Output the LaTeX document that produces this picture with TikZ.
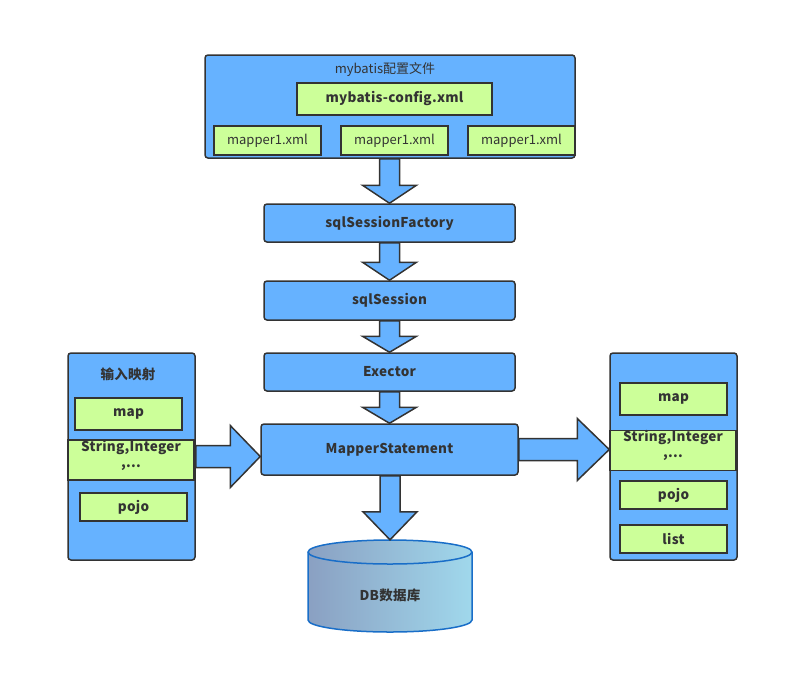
\documentclass[tikz,border=0pt]{standalone}
\usepackage{fontspec}
\setmainfont{Noto Sans CJK SC}
\usetikzlibrary{calc}
\definecolor{boxblue}{RGB}{102,178,255}
\definecolor{boxgreen}{RGB}{204,255,153}
\definecolor{edgegray}{RGB}{51,51,51}
\definecolor{dbedge}{RGB}{25,110,200}
\definecolor{dbleft}{RGB}{138,160,194}
\definecolor{dbright}{RGB}{160,216,236}
\tikzstyle{heavy} = [font=\fontsize{13.5}{16}\selectfont\bfseries\addfontfeatures{LetterSpace=2}]
\tikzstyle{container} = [rectangle, rounded corners=3pt, draw=edgegray, fill=boxblue, line width=1.5pt, inner sep=0pt]
\tikzstyle{process} = [rectangle, rounded corners=3pt, draw=edgegray, fill=boxblue, line width=1.5pt, minimum width=251pt, minimum height=38pt, heavy]
\tikzstyle{item} = [rectangle, draw=edgegray, fill=boxgreen, line width=1.5pt, minimum width=107pt, minimum height=29pt, inner sep=1pt]
\tikzstyle{typebox} = [item, heavy, minimum width=126pt, align=center, inner sep=0pt, text depth=13pt]
\tikzstyle{fat} = [draw=edgegray, fill=boxblue, line width=1.5pt, line join=miter]
\newcommand{\fatdown}[3]{%
  \draw[fat] ($(#2.north |- #1.south)+(-10,0)$) -- ($(#2.north)+(-10,-#3)$) -- ($(#2.north)+(-27,-#3)$)
    -- (#2.north) -- ($(#2.north)+(27,-#3)$) -- ($(#2.north)+(10,-#3)$) -- ($(#2.north |- #1.south)+(10,0)$) -- cycle;}
\newcommand{\fatright}[3]{%
  \draw[fat] ($(#1.east)+(0,-11)$) -- ($(#2.west |- #1.east)+(-#3,-11)$) -- ($(#2.west |- #1.east)+(-#3,-31)$)
    -- (#2.west |- #1.east) -- ($(#2.west |- #1.east)+(-#3,31)$) -- ($(#2.west |- #1.east)+(-#3,11)$) -- ($(#1.east)+(0,11)$) -- cycle;}

\begin{document}
\begin{tikzpicture}[x=1pt, y=-1pt, font=\fontsize{13}{16}\selectfont, text=edgegray]
\useasboundingbox (0,0) rectangle (799,696);

\node (cfgfile) [container, minimum width=370pt, minimum height=103pt] at (390,106.5) {};
\node (cfgtitle) at (385,70) {mybatis配置文件};
\node (config) [item, heavy, minimum width=195pt, minimum height=32pt] at (394.5,99) {mybatis-config.xml};
\node (mapperA) [item] at (267.5,140.5) {mapper1.xml};
\node (mapperB) [item] at (394.5,140.5) {mapper1.xml};
\node (mapperC) [item] at (521.5,140.5) {mapper1.xml};

\node (factory) [process] at (389.5,223) {sqlSessionFactory};
\node (session) [process, minimum height=39pt] at (389.5,300.5) {sqlSession};
\node (exector) [process] at (389.5,372) {Exector};
\node (ms) [process, minimum width=257pt, minimum height=51pt] at (389.5,449.5) {MapperStatement};

\node (lin) [container, minimum width=127pt, minimum height=207pt] at (131.5,456.5) {};
\node (intitle) [heavy] at (128,374) {输入映射};
\node (lmap) [item, heavy, minimum height=32pt] at (128.5,414) {map};
\node (lstr) [typebox, minimum height=40pt] at (131,460) {String,Integer\\,...};
\node (lpojo) [item, heavy, minimum height=28pt] at (133.5,507) {pojo};

\node (lout) [container, minimum width=127pt, minimum height=207pt] at (673.5,456.5) {};
\node (rmap) [item, heavy, minimum height=32pt] at (673.5,399) {map};
\node (rstr) [typebox, minimum height=39pt] at (673,450.5) {String,Integer\\,...};
\node (rpojo) [item, heavy, minimum height=28pt] at (673.5,495) {pojo};
\node (rlist) [item, heavy, minimum height=28pt] at (673.5,539) {list};

\node (db) [minimum width=164pt, minimum height=92pt] at (390,586) {};
\shade[left color=dbleft, right color=dbright, draw=dbedge, line width=1.5pt]
  (308,552) -- (308,620) arc[start angle=180, end angle=0, x radius=82, y radius=12]
  -- (472,552) arc[start angle=0, end angle=-180, x radius=82, y radius=12] -- cycle;
\draw[dbedge, line width=1.5pt] (308,552) arc[start angle=180, end angle=0, x radius=82, y radius=12];
\node (dbtext) [heavy] at (390,595) {DB数据库};

\fatdown{cfgfile}{factory}{18}
\fatdown{factory}{session}{18}
\fatdown{session}{exector}{16}
\fatdown{exector}{ms}{16}
\fatdown{ms}{db}{28}
\fatright{lin}{ms}{30}
\fatright{ms}{lout}{32}

\end{tikzpicture}
\end{document}
